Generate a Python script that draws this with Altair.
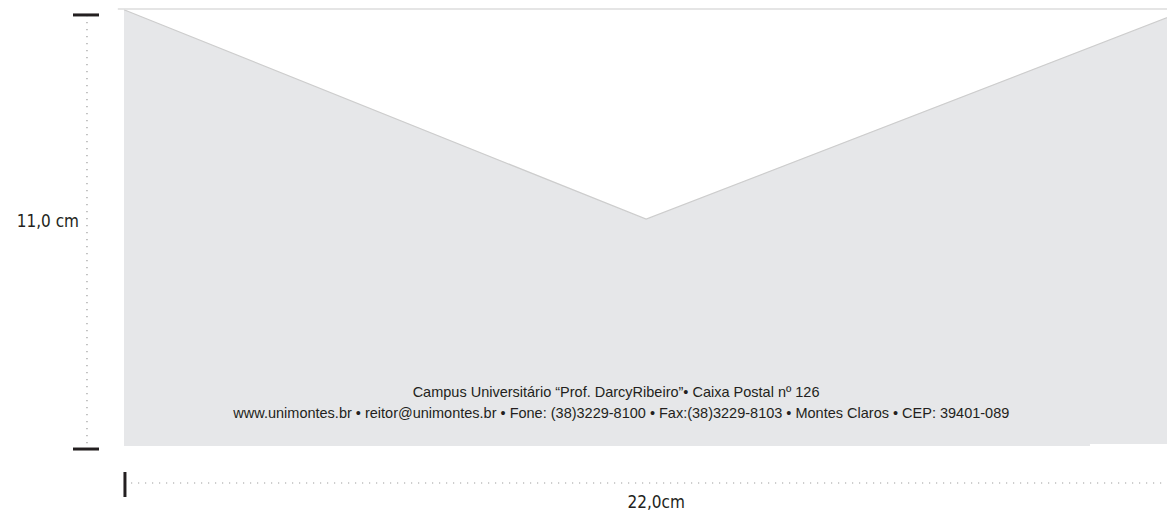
import altair as alt
import pandas as pd

# ---- data (cm units of the envelope drawing) ----
ENV_W = 22.0
ENV_H = 11.0
flap_x = [0.0, 10.93, 22.0]
flap_y = [10.98, 5.71, 10.86]
notch_x = [20.22, 22.2]
notch_y = [-0.1, 0.05]
top_line_x = [-0.13, 22.0]
vdim_x = -0.775
vdim_y = [10.85, 0.0]
vtick_y = [10.85, -0.076]
vtick_x = [-1.068, -0.523]
hdim_y = -0.931
hdim_x = [0.0, 22.0]
htick_x = 0.02
htick_y = [-0.654, -1.284]
label_h = "11,0 cm"
label_h_pos = (-0.942, 5.64)
label_w = "22,0cm"
label_w_pos = (11.14, -1.44)
address_lines = [
    "Campus Universitário “Prof. DarcyRibeiro”• Caixa Postal nº 126",
    "www.unimontes.br • reitor@unimontes.br • Fone: (38)3229-8100 • Fax:(38)3229-8103 • Montes Claros • CEP: 39401-089",
]
address_x = [10.30, 10.41]
address_y = [1.334, 0.805]

X_DOMAIN = [-2.4282, 21.8326]
Y_DOMAIN = [-1.636, 11.025]

xs = alt.Scale(domain=X_DOMAIN, nice=False, zero=False)
ys = alt.Scale(domain=Y_DOMAIN, nice=False, zero=False)
X = lambda f: alt.X(f, type="quantitative", scale=xs, axis=None)
Y = lambda f: alt.Y(f, type="quantitative", scale=ys, axis=None, stack=None)

GREY = "#e6e7e9"
INK = "#231f20"
DOT = "#9d9d9d"

flap_df = pd.DataFrame({"x": flap_x, "y": flap_y, "y2": [0.0] * 3})
body = alt.Chart(flap_df).mark_area(fill=GREY, color=GREY, opacity=1, interpolate="linear").encode(
    x=X("x"), y=Y("y"), y2=alt.Y2("y2"))

notch = alt.Chart(pd.DataFrame({"x": [notch_x[0]], "x2": [notch_x[1]],
                                "y": [notch_y[0]], "y2": [notch_y[1]]})).mark_rect(color="white").encode(
    x=X("x"), x2="x2", y=Y("y"), y2="y2")

flap_line = alt.Chart(flap_df).mark_line(color="#cdcdcd", strokeWidth=1.2).encode(
    x=X("x"), y=Y("y"))

top_line = alt.Chart(pd.DataFrame({"x": [top_line_x[0]], "x2": [top_line_x[1]], "y": [ENV_H]})).mark_rule(
    color="#dcdcdc", strokeWidth=1.5).encode(x=X("x"), x2="x2", y=Y("y"))

vdim = alt.Chart(pd.DataFrame({"x": [vdim_x], "y": [vdim_y[0]], "y2": [vdim_y[1]]})).mark_rule(
    color=DOT, strokeWidth=1.2, strokeDash=[1.2, 5.8]).encode(x=X("x"), y=Y("y"), y2="y2")

hdim = alt.Chart(pd.DataFrame({"x": [hdim_x[0]], "x2": [hdim_x[1]], "y": [hdim_y]})).mark_rule(
    color=DOT, strokeWidth=1.2, strokeDash=[1.2, 5.8]).encode(x=X("x"), x2="x2", y=Y("y"))

vticks = alt.Chart(pd.DataFrame({"x": [vtick_x[0]] * 2, "x2": [vtick_x[1]] * 2, "y": vtick_y})).mark_rule(
    color=INK, strokeWidth=3).encode(x=X("x"), x2="x2", y=Y("y"))

htick = alt.Chart(pd.DataFrame({"x": [htick_x], "y": [htick_y[0]], "y2": [htick_y[1]]})).mark_rule(
    color=INK, strokeWidth=3).encode(x=X("x"), y=Y("y"), y2="y2")

FONT_C = "DejaVu Sans Condensed"
lab_h = alt.Chart(pd.DataFrame({"x": [label_h_pos[0]], "y": [label_h_pos[1]], "t": [label_h]})).mark_text(
    font=FONT_C, fontSize=17, color=INK, align="right", baseline="middle").encode(
    x=X("x"), y=Y("y"), text="t:N")

lab_w = alt.Chart(pd.DataFrame({"x": [label_w_pos[0]], "y": [label_w_pos[1]], "t": [label_w]})).mark_text(
    font=FONT_C, fontSize=17, color=INK, align="center", baseline="middle").encode(
    x=X("x"), y=Y("y"), text="t:N")

addr = alt.Chart(pd.DataFrame({"x": address_x, "y": address_y, "t": address_lines})).mark_text(
    font="Liberation Sans", fontSize=14.5, color=INK, align="center", baseline="middle").encode(
    x=X("x"), y=Y("y"), text="t:N")

chart = alt.layer(body, notch, flap_line, top_line, vdim, hdim, vticks, htick, lab_h, lab_w, addr).properties(
    width=1159, height=503, padding=0, autosize="none"
).configure_view(stroke=None)

chart.save("out.html", embed_options={"renderer": "svg", "actions": False})
